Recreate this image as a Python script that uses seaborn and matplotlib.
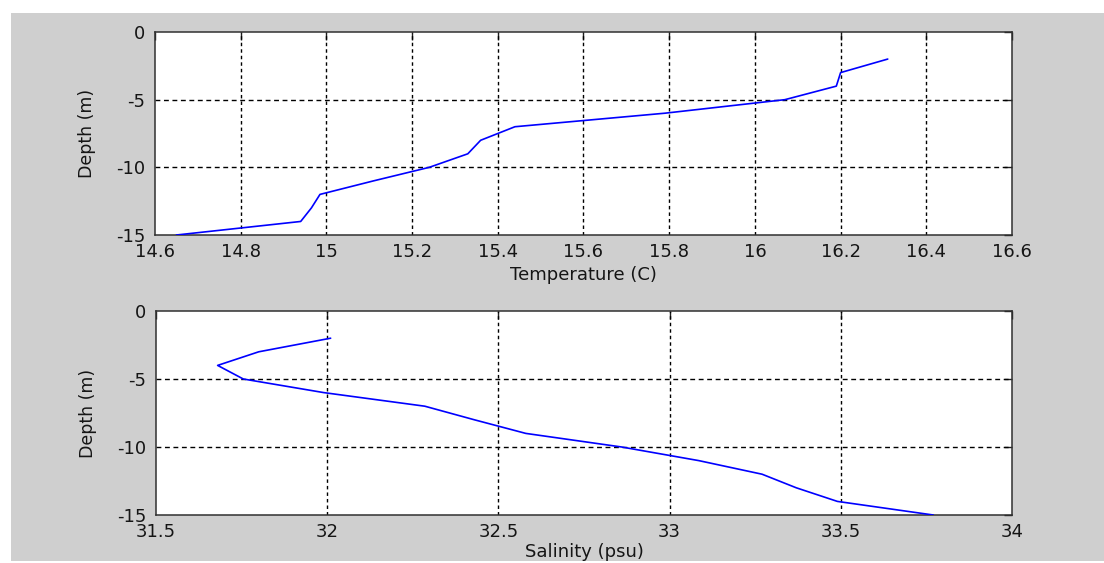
import matplotlib
matplotlib.use("Agg")
import matplotlib.pyplot as plt
import matplotlib.patches as mpatches
from matplotlib.ticker import FuncFormatter
import pandas as pd
import seaborn as sns

# ---- data ----
depth = [-2, -3, -4, -5, -6, -7, -8, -9, -10, -11, -12, -13, -14, -15]
temperature = [16.31, 16.20, 16.19, 16.07, 15.79, 15.44, 15.36, 15.33,
               15.24, 15.11, 14.985, 14.965, 14.94, 14.65]
salinity = [32.01, 31.80, 31.68, 31.755, 31.99, 32.285, 32.43, 32.58,
            32.86, 33.085, 33.27, 33.37, 33.49, 33.77]
temp_ticks = [14.6, 14.8, 15.0, 15.2, 15.4, 15.6, 15.8, 16.0, 16.2, 16.4, 16.6]
sal_ticks = [31.5, 32.0, 32.5, 33.0, 33.5, 34.0]
depth_ticks = [0, -5, -10, -15]

df = pd.DataFrame({"depth": depth, "temperature": temperature, "salinity": salinity})

sns.set_theme(style="white")
plt.rcParams["font.family"] = ["DejaVu Sans"]
plt.rcParams["axes.unicode_minus"] = False

W, H = 1104, 563
fig = plt.figure(figsize=(W / 100, H / 100), dpi=100, facecolor="white")
# gray MATLAB-like figure background
fig.patches.append(mpatches.Rectangle((11 / W, 2 / H), 1.0, (561 - 13) / H,
                                      transform=fig.transFigure, facecolor="#cfcfcf",
                                      edgecolor="none", zorder=-10))

ax1 = fig.add_axes([155 / W, 1 - 235 / H, (1012 - 155) / W, (235 - 32) / H])
ax2 = fig.add_axes([156 / W, 1 - 515 / H, (1012 - 156) / W, (515 - 311) / H])

fmt = FuncFormatter(lambda v, p: "%g" % round(v, 4))


def style(ax, xticks, xlim, xlabel, xlabel_y):
    ax.set_facecolor("white")
    ax.set_xlim(*xlim)
    ax.set_ylim(-15, 0)
    ax.set_xticks(xticks)
    ax.set_yticks(depth_ticks)
    ax.xaxis.set_major_formatter(fmt)
    ax.yaxis.set_major_formatter(fmt)
    for s in ax.spines.values():
        s.set_visible(True)
        s.set_color("#303030")
        s.set_linewidth(1.1)
    ax.tick_params(axis="both", direction="in", length=6, width=1.0, color="#202020",
                   top=True, right=True, labelsize=13, labelcolor="#151515")
    ax.tick_params(axis="x", pad=6)
    ax.tick_params(axis="y", pad=7)
    # grid
    for xv in xticks[1:-1]:
        ax.axvline(xv, color="black", lw=1.0, ls=(0, (2.5, 2.2)), zorder=1)
    for yv in depth_ticks[1:-1]:
        ax.axhline(yv, color="black", lw=1.0, ls=(0, (3.5, 2.6)), zorder=1)
    ax.set_xlabel(xlabel, fontsize=13, color="#151515")
    ax.xaxis.set_label_coords(0.5, xlabel_y)
    ax.set_ylabel("Depth (m)", fontsize=12.5, color="#151515")
    ax.yaxis.set_label_coords(-0.079, 0.5)
    ax.yaxis.label.set_va("center")


sns.lineplot(data=df, x="temperature", y="depth", sort=False, estimator=None,
             color="#0000ff", lw=1.2, ax=ax1, zorder=3)
sns.lineplot(data=df, x="salinity", y="depth", sort=False, estimator=None,
             color="#0000ff", lw=1.2, ax=ax2, zorder=3)

style(ax1, temp_ticks, (14.6, 16.6), "Temperature (C)", -0.155)
style(ax2, sal_ticks, (31.5, 34.0), "Salinity (psu)", -0.135)

fig.savefig("out.png", dpi=100, facecolor="white")
